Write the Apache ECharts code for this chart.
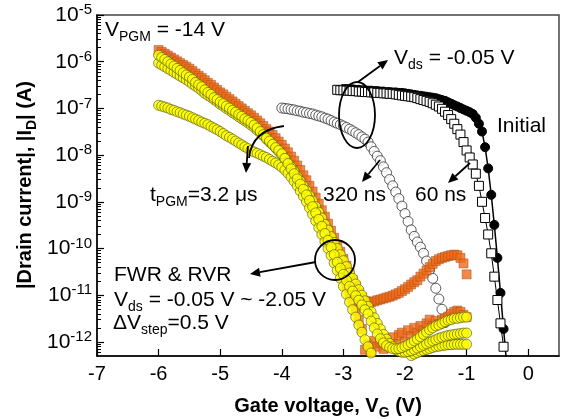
<!DOCTYPE html>
<html><head><meta charset="utf-8">
<script src="https://cdn.jsdelivr.net/npm/echarts@6/dist/echarts.min.js"></script>
<style>html,body{margin:0;padding:0;background:#fff}#c{width:563px;height:419px}</style>
</head><body><div id="c"></div>
<script>
// ---- axis ticks ----
const xTicks = [-7, -6, -5, -4, -3, -2, -1, 0];
const yMajor = [1e-12, 1e-11, 1e-10, 1e-9, 1e-8, 1e-7, 1e-6, 1e-5];
const yMinor = [6e-13, 7e-13, 8e-13, 9e-13,
  2e-12, 3e-12, 4e-12, 5e-12, 6e-12, 7e-12, 8e-12, 9e-12,
  2e-11, 3e-11, 4e-11, 5e-11, 6e-11, 7e-11, 8e-11, 9e-11,
  2e-10, 3e-10, 4e-10, 5e-10, 6e-10, 7e-10, 8e-10, 9e-10,
  2e-9, 3e-9, 4e-9, 5e-9, 6e-9, 7e-9, 8e-9, 9e-9,
  2e-8, 3e-8, 4e-8, 5e-8, 6e-8, 7e-8, 8e-8, 9e-8,
  2e-7, 3e-7, 4e-7, 5e-7, 6e-7, 7e-7, 8e-7, 9e-7,
  2e-6, 3e-6, 4e-6, 5e-6, 6e-6, 7e-6, 8e-6, 9e-6];

// ---- gate voltage sweeps (V) ----
const vg3 = [-6, -5.95, -5.9, -5.85, -5.8, -5.75, -5.7, -5.65, -5.6, -5.55,
  -5.5, -5.45, -5.4, -5.35, -5.3, -5.25, -5.2, -5.15, -5.1, -5.05,
  -5, -4.95, -4.9, -4.85, -4.8, -4.75, -4.7, -4.65, -4.6, -4.55,
  -4.5, -4.45, -4.4, -4.35, -4.3, -4.25, -4.2, -4.15, -4.1, -4.05,
  -4, -3.95, -3.9, -3.85, -3.8, -3.75, -3.7, -3.65, -3.6, -3.55,
  -3.5, -3.45, -3.4, -3.35, -3.3, -3.25, -3.2, -3.15, -3.1, -3.05,
  -3, -2.95, -2.9, -2.85, -2.8, -2.75, -2.7, -2.65, -2.6, -2.55,
  -2.5, -2.45, -2.4, -2.35, -2.3, -2.25, -2.2, -2.15, -2.1, -2.05,
  -2, -1.95, -1.9, -1.85, -1.8, -1.75, -1.7, -1.65, -1.6, -1.55,
  -1.5, -1.45, -1.4, -1.35, -1.3, -1.25, -1.2, -1.15, -1.1, -1.05, -1];
const vgO2 = vg3.slice(54);      // -3.3 .. -1.0
const vg320 = vg3.slice(40, 95); // -4.0 .. -1.3
const vg60 = [-3.1, -3.05, -3, -2.95, -2.9, -2.85, -2.8, -2.75, -2.7, -2.65,
  -2.6, -2.55, -2.5, -2.45, -2.4, -2.35, -2.3, -2.25, -2.2, -2.15,
  -2.1, -2.05, -2, -1.95, -1.9, -1.85, -1.8, -1.75, -1.7, -1.65,
  -1.6, -1.55, -1.5, -1.45, -1.4, -1.35, -1.3, -1.25, -1.2, -1.15,
  -1.1, -1.05, -1, -0.95, -0.9, -0.85, -0.8, -0.75, -0.7, -0.65,
  -0.6, -0.55, -0.5, -0.45, -0.4];
const vgInit = [-3, -2.95, -2.9, -2.85, -2.8, -2.75, -2.7, -2.65, -2.6, -2.55,
  -2.5, -2.45, -2.4, -2.35, -2.3, -2.25, -2.2, -2.15, -2.1, -2.05,
  -2, -1.95, -1.9, -1.85, -1.8, -1.75, -1.7, -1.65, -1.6, -1.55,
  -1.5, -1.45, -1.4, -1.35, -1.3, -1.25, -1.2, -1.15, -1.1, -1.05,
  -1, -0.95, -0.9, -0.85, -0.8, -0.75, -0.7, -0.65, -0.6, -0.55,
  -0.5, -0.45, -0.4, -0.35];

// ---- drain currents (A) ----
const idInitial = [2.6e-7, 2.6e-7, 2.57e-7, 2.57e-7, 2.5e-7, 2.5e-7, 2.45e-7, 2.45e-7, 2.4e-7, 2.4e-7,
  2.35e-7, 2.35e-7, 2.3e-7, 2.3e-7, 2.24e-7, 2.24e-7, 2.2e-7, 2.2e-7, 2.15e-7, 2.15e-7,
  2.1e-7, 2.05e-7, 2.0e-7, 1.95e-7, 1.9e-7, 1.86e-7, 1.82e-7, 1.78e-7, 1.74e-7, 1.7e-7,
  1.66e-7, 1.58e-7, 1.51e-7, 1.45e-7, 1.35e-7, 1.26e-7, 1.17e-7, 1.1e-7, 1.02e-7, 9.5e-8,
  8.9e-8, 8.3e-8, 7.6e-8, 6.3e-8, 4.7e-8, 3.2e-8, 1.48e-8, 5.2e-9, 1.41e-9, 3.2e-10,
  6.3e-11, 1.12e-11, 1.9e-12, 3.5e-13];
const id60ns = [2.5e-7, 2.45e-7, 2.45e-7, 2.4e-7, 2.4e-7, 2.35e-7, 2.35e-7, 2.3e-7, 2.3e-7, 2.24e-7,
  2.24e-7, 2.2e-7, 2.2e-7, 2.15e-7, 2.15e-7, 2.1e-7, 2.1e-7, 2.05e-7, 2.05e-7, 2.0e-7,
  1.95e-7, 1.9e-7, 1.86e-7, 1.82e-7, 1.78e-7, 1.74e-7, 1.66e-7, 1.58e-7, 1.51e-7, 1.45e-7,
  1.38e-7, 1.29e-7, 1.2e-7, 1.1e-7, 9.8e-8, 8.5e-8, 7.2e-8, 5.9e-8, 4.7e-8, 3.6e-8,
  2.75e-8, 1.9e-8, 1.26e-8, 8.9e-9, 6.3e-9, 4.0e-9, 2.2e-9, 1.0e-9, 4.5e-10, 2.0e-10,
  7.9e-11, 2.5e-11, 7.9e-12, 2.5e-12, 7.9e-13];
const id320ns = [1.02e-7, 1.0e-7, 9.8e-8, 9.5e-8, 9.3e-8, 8.9e-8, 8.7e-8, 8.3e-8, 8.1e-8, 7.8e-8,
  7.6e-8, 7.2e-8, 6.9e-8, 6.6e-8, 6.2e-8, 5.9e-8, 5.5e-8, 5.1e-8, 4.8e-8, 4.5e-8,
  4.2e-8, 3.9e-8, 3.6e-8, 3.3e-8, 3.0e-8, 2.75e-8, 2.45e-8, 2.2e-8, 1.9e-8, 1.51e-8,
  1.2e-8, 9.5e-9, 7.6e-9, 5.6e-9, 4.2e-9, 3.0e-9, 2.2e-9, 1.62e-9, 1.17e-9, 8.1e-10,
  5.6e-10, 3.8e-10, 2.5e-10, 1.82e-10, 1.38e-10, 1.07e-10, 7.9e-11, 5.4e-11, 3.5e-11, 2.3e-11,
  1.41e-11, 8.3e-12, 5.0e-12, 2.6e-12, 1.26e-12];
// 3.2 us: orange squares
const idO1 = [1.78e-6, 1.62e-6, 1.48e-6, 1.35e-6, 1.23e-6, 1.12e-6, 1.02e-6, 9.3e-7, 8.5e-7, 7.8e-7,
  7.1e-7, 6.3e-7, 5.6e-7, 5.0e-7, 4.5e-7, 4.0e-7, 3.5e-7, 3.2e-7, 2.8e-7, 2.5e-7,
  2.2e-7, 2.0e-7, 1.78e-7, 1.58e-7, 1.41e-7, 1.26e-7, 1.12e-7, 1.0e-7, 8.9e-8, 7.9e-8,
  7.1e-8, 6.3e-8, 5.5e-8, 4.8e-8, 4.2e-8, 3.6e-8, 3.2e-8, 2.7e-8, 2.3e-8, 1.95e-8,
  1.66e-8, 1.38e-8, 1.15e-8, 9.3e-9, 7.6e-9, 6.0e-9, 4.8e-9, 3.7e-9, 2.9e-9, 2.2e-9,
  1.66e-9, 1.23e-9, 9.1e-10, 6.6e-10, 4.8e-10, 3.4e-10, 2.4e-10, 1.7e-10, 1.2e-10, 8.5e-11,
  6.0e-11, 4.3e-11, 3.0e-11, 2.1e-11, 1.55e-11, 1.15e-11, 8.9e-12, 7.6e-12, 7.1e-12, 7.1e-12,
  7.4e-12, 7.8e-12, 8.1e-12, 8.5e-12, 8.9e-12, 9.3e-12, 9.8e-12, 1.05e-11, 1.12e-11, 1.23e-11,
  1.35e-11, 1.51e-11, 1.7e-11, 1.9e-11, 2.1e-11, 2.5e-11, 2.9e-11, 3.4e-11, 4.0e-11, 4.7e-11,
  5.4e-11, 5.9e-11, 6.3e-11, 6.6e-11, 6.9e-11, 7.2e-11, 7.4e-11, 7.2e-11, 6.3e-11, 4.8e-11,
  2.8e-11];
const idO2 = [2.8e-10, 1.9e-10, 1.26e-10, 8.5e-11, 5.6e-11, 3.7e-11, 2.5e-11, 1.62e-11, 1.07e-11, 7.1e-12,
  4.7e-12, 3.0e-12, 1.9e-12, 6.8e-13, 8.9e-13, 6.3e-13, 1.05e-12, 7.9e-13, 9.5e-13, 7.1e-13,
  1.12e-12, 8.3e-13, 1.26e-12, 8.9e-13, 1.41e-12, 1.58e-12, 1.0e-12, 1.78e-12, 1.32e-12, 2.0e-12,
  1.58e-12, 2.2e-12, 1.78e-12, 2.5e-12, 3.0e-12, 2.2e-12, 2.8e-12, 2.4e-12, 3.0e-12, 3.2e-12,
  3.5e-12, 4.0e-12, 4.4e-12, 4.7e-12, 4.4e-12, 3.8e-12, 3.4e-12];
// 3.2 us: yellow circles
const idY1 = [1.38e-6, 1.23e-6, 1.12e-6, 1.0e-6, 8.9e-7, 8.1e-7, 7.2e-7, 6.5e-7, 5.8e-7, 5.2e-7,
  4.7e-7, 4.2e-7, 3.6e-7, 3.2e-7, 2.9e-7, 2.5e-7, 2.2e-7, 2.0e-7, 1.7e-7, 1.55e-7,
  1.38e-7, 1.26e-7, 1.12e-7, 1.02e-7, 9.1e-8, 8.3e-8, 7.4e-8, 6.8e-8, 6.0e-8, 5.5e-8,
  5.0e-8, 4.4e-8, 3.8e-8, 3.2e-8, 2.75e-8, 2.3e-8, 2.0e-8, 1.7e-8, 1.45e-8, 1.26e-8,
  1.07e-8, 8.5e-9, 6.6e-9, 5.1e-9, 4.0e-9, 3.1e-9, 2.4e-9, 1.86e-9, 1.41e-9, 1.07e-9,
  7.9e-10, 5.8e-10, 4.2e-10, 3.0e-10, 2.1e-10, 1.5e-10, 1.07e-10, 7.4e-11, 5.1e-11, 3.8e-11,
  2.8e-11, 2.1e-11, 1.55e-11, 1.23e-11, 9.8e-12, 7.8e-12, 6.2e-12, 4.9e-12, 4.0e-12, 2.8e-12,
  2.0e-12, 1.48e-12, 1.17e-12, 9.5e-13, 8.3e-13, 7.6e-13, 7.2e-13, 7.1e-13, 7.2e-13, 7.6e-13,
  8.1e-13, 8.7e-13, 9.5e-13, 1.05e-12, 1.15e-12, 1.29e-12, 1.45e-12, 1.62e-12, 1.82e-12, 2.0e-12,
  2.2e-12, 2.3e-12, 2.5e-12, 2.7e-12, 2.9e-12, 3.0e-12, 3.2e-12, 3.2e-12, 3.3e-12, 3.4e-12,
  3.4e-12];
const idY2 = [9.3e-7, 8.5e-7, 7.8e-7, 7.1e-7, 6.5e-7, 5.9e-7, 5.4e-7, 4.9e-7, 4.5e-7, 4.1e-7,
  3.7e-7, 3.3e-7, 3.0e-7, 2.7e-7, 2.4e-7, 2.1e-7, 1.9e-7, 1.74e-7, 1.55e-7, 1.38e-7,
  1.23e-7, 1.12e-7, 1.0e-7, 9.1e-8, 8.1e-8, 7.4e-8, 6.6e-8, 6.0e-8, 5.4e-8, 4.9e-8,
  4.4e-8, 3.9e-8, 3.4e-8, 3.0e-8, 2.6e-8, 2.2e-8, 1.9e-8, 1.66e-8, 1.41e-8, 1.2e-8,
  1.02e-8, 8.5e-9, 6.9e-9, 5.6e-9, 4.5e-9, 3.5e-9, 2.8e-9, 2.2e-9, 1.74e-9, 1.35e-9,
  1.05e-9, 7.9e-10, 6.0e-10, 4.5e-10, 3.3e-10, 2.5e-10, 1.8e-10, 1.35e-10, 1.0e-10, 7.4e-11,
  5.5e-11, 4.1e-11, 3.0e-11, 2.3e-11, 1.74e-11, 1.32e-11, 1.0e-11, 7.6e-12, 5.8e-12, 4.4e-12,
  3.3e-12, 2.5e-12, 1.9e-12, 1.45e-12, 1.15e-12, 9.3e-13, 7.9e-13, 6.9e-13, 6.3e-13, 6.0e-13,
  6.0e-13, 6.2e-13, 6.5e-13, 6.9e-13, 7.4e-13, 7.9e-13, 8.5e-13, 9.1e-13, 9.8e-13, 1.05e-12,
  1.12e-12, 1.2e-12, 1.26e-12, 1.32e-12, 1.38e-12, 1.41e-12, 1.45e-12, 1.48e-12, 1.51e-12, 1.55e-12,
  1.55e-12];
const idY3 = [1.17e-7, 1.12e-7, 1.07e-7, 1.02e-7, 9.5e-8, 9.1e-8, 8.5e-8, 8.1e-8, 7.6e-8, 7.2e-8,
  6.8e-8, 6.3e-8, 5.9e-8, 5.5e-8, 5.1e-8, 4.8e-8, 4.5e-8, 4.1e-8, 3.8e-8, 3.5e-8,
  3.2e-8, 2.9e-8, 2.6e-8, 2.4e-8, 2.2e-8, 2.0e-8, 1.82e-8, 1.66e-8, 1.51e-8, 1.38e-8,
  1.26e-8, 1.17e-8, 1.1e-8, 1.02e-8, 9.5e-9, 8.9e-9, 8.1e-9, 7.4e-9, 6.8e-9, 6.2e-9,
  5.5e-9, 4.8e-9, 4.1e-9, 3.4e-9, 2.75e-9, 2.2e-9, 1.7e-9, 1.32e-9, 1.0e-9, 7.4e-10,
  5.4e-10, 3.9e-10, 2.8e-10, 2.0e-10, 1.41e-10, 1.0e-10, 7.1e-11, 4.9e-11, 3.4e-11, 2.3e-11,
  1.55e-11, 1.05e-11, 7.1e-12, 4.9e-12, 3.4e-12, 2.3e-12, 1.62e-12, 1.12e-12, 7.9e-13, 5.8e-13,
  4.4e-13, 3.5e-13, 3.2e-13, 3.0e-13, 3.0e-13, 3.2e-13, 3.4e-13, 3.6e-13, 3.9e-13, 4.2e-13,
  4.5e-13, 4.8e-13, 5.1e-13, 5.5e-13, 5.9e-13, 6.3e-13, 6.6e-13, 6.9e-13, 7.2e-13, 7.6e-13,
  7.9e-13, 8.1e-13, 8.3e-13, 8.5e-13, 8.7e-13, 8.7e-13, 8.9e-13, 8.9e-13, 8.9e-13, 8.9e-13,
  8.9e-13];

// ---- styling / helpers ----
const FF = '"Liberation Sans", Arial, Helvetica, sans-serif';
const pair = (xs, ys) => xs.map((x, i) => [x, ys[i]]);
function richSet(sz, bold) {
  const w = bold ? 'bold' : 'normal';
  const sub = Math.round(sz * 0.68);
  return {
    n: { fontSize: sz, fontFamily: FF, fontWeight: w, fill: '#000' },
    s: { fontSize: sub, fontFamily: FF, fontWeight: w, fill: '#000', padding: [14, 0, 0, 0] }
  };
}
function label(text, x, y, sz, bold, align, extra) {
  return Object.assign({
    type: 'text', x: x, y: y, z: 100,
    style: { text: text, rich: richSet(sz, bold), fontSize: sz, fontFamily: FF,
      fill: '#000', align: align || 'left', verticalAlign: 'middle' }
  }, extra || {});
}
function arrow(x1, y1, x2, y2) {
  const a = Math.atan2(y2 - y1, x2 - x1), L = 10, W = 4.5;
  const bx = x2 - L * Math.cos(a), by = y2 - L * Math.sin(a);
  return [
    { type: 'line', z: 100, shape: { x1: x1, y1: y1, x2: bx, y2: by }, style: { stroke: '#000', lineWidth: 1.8 } },
    { type: 'polygon', z: 100, shape: { points: [[x2, y2], [bx + W * Math.sin(a), by - W * Math.cos(a)], [bx - W * Math.sin(a), by + W * Math.cos(a)]] }, style: { fill: '#000' } }
  ];
}

const yellow = { color: '#ffff00', borderColor: '#55551a', borderWidth: 0.8 };
const orange = { color: '#ef6c1a', borderColor: '#a24a0e', borderWidth: 0.6 };

const chart = echarts.init(document.getElementById('c'), null, { renderer: 'canvas' });
chart.setOption({
  animation: false,
  backgroundColor: '#fff',
  grid: { left: 97, right: 4, top: 15, bottom: 63, show: true, borderColor: '#444', borderWidth: 1.5, backgroundColor: 'transparent' },
  xAxis: {
    type: 'value', min: -7, max: 0.5,
    axisLine: { show: true, onZero: false, lineStyle: { color: '#000', width: 1.5 } },
    axisTick: { inside: true, length: 7, customValues: xTicks, lineStyle: { color: '#000', width: 1.2 } },
    axisLabel: { customValues: xTicks, color: '#000', fontSize: 20, fontFamily: FF, margin: 8 },
    splitLine: { show: false }
  },
  yAxis: [{
    type: 'log', logBase: 10, min: 5e-13, max: 1e-5, position: 'left',
    axisLine: { show: true, onZero: false, lineStyle: { color: '#000', width: 1.5 } },
    axisTick: { inside: true, length: 7, customValues: yMajor, lineStyle: { color: '#000', width: 1.2 } },
    axisLabel: {
      customValues: yMajor, margin: 5,
      formatter: v => '{b|10}{s|' + Math.round(Math.log10(v)) + '}',
      rich: {
        b: { fontSize: 21, fontFamily: FF, color: '#000' },
        s: { fontSize: 15, fontFamily: FF, color: '#000', padding: [0, 0, 10, 0] }
      }
    },
    splitLine: { show: false }
  }, {
    type: 'log', logBase: 10, min: 5e-13, max: 1e-5, position: 'left', offset: 0,
    axisLine: { show: false, onZero: false },
    axisTick: { inside: true, length: 4, customValues: yMinor, lineStyle: { color: '#000', width: 1 } },
    axisLabel: { show: false },
    splitLine: { show: false }
  }],
  series: [
    { type: 'scatter', name: '320 ns', data: pair(vg320, id320ns), symbol: 'circle', symbolSize: 10,
      itemStyle: { color: '#fff', borderColor: '#333', borderWidth: 1 } },
    { type: 'line', name: 'Initial', data: pair(vgInit, idInitial), symbol: 'circle', symbolSize: 9, showSymbol: true,
      lineStyle: { color: '#000', width: 1.5 }, itemStyle: { color: '#000', borderColor: '#000' } },
    { type: 'line', name: '60 ns', data: pair(vg60, id60ns), symbol: 'rect', symbolSize: 9, showSymbol: true,
      lineStyle: { color: '#000', width: 1 }, itemStyle: { color: '#fff', borderColor: '#000', borderWidth: 1 } },
    { type: 'scatter', name: '3.2us O2', data: pair(vgO2, idO2), symbol: 'rect', symbolSize: 9, itemStyle: orange },
    { type: 'scatter', name: '3.2us O1', data: pair(vg3, idO1), symbol: 'rect', symbolSize: 9, itemStyle: orange },
    { type: 'scatter', name: '3.2us Y3', data: pair(vg3, idY3), symbol: 'circle', symbolSize: 10, itemStyle: yellow },
    { type: 'scatter', name: '3.2us Y2', data: pair(vg3, idY2), symbol: 'circle', symbolSize: 10, itemStyle: yellow },
    { type: 'scatter', name: '3.2us Y1', data: pair(vg3, idY1), symbol: 'circle', symbolSize: 10, itemStyle: yellow }
  ],
  graphic: [
    label('{n|V}{s|PGM}{n| = -14 V}', 105, 30, 21, false),
    label('{n|V}{s|ds}{n| = -0.05 V}', 394, 58, 21, false),
    label('{n|Initial}', 497, 126, 21, false),
    label('{n|320 ns}', 323, 195, 21, false),
    label('{n|60 ns}', 415, 195, 21, false),
    label('{n|t}{s|PGM}{n|=3.2 μs}', 150, 195, 21, false),
    label('{n|FWR & RVR}', 114, 275, 21, false),
    label('{n|V}{s|ds}{n| = -0.05 V ~ -2.05 V}', 114, 300, 21, false),
    label('{n|ΔV}{s|step}{n|=0.5 V}', 113, 323, 21, false),
    label('{n|Gate voltage, V}{s|G}{n| (V)}', 328, 406, 20, true, 'center'),
    label('{n||Drain current|, |I}{s|D}{n|| (A)}', 25, 185, 20, true, 'center', { rotation: Math.PI / 2 }),
    { type: 'ellipse', z: 100, shape: { cx: 357, cy: 115, rx: 18, ry: 33 }, style: { fill: 'none', stroke: '#000', lineWidth: 1.8 } },
    { type: 'circle', z: 100, shape: { cx: 335, cy: 260, r: 20 }, style: { fill: 'none', stroke: '#000', lineWidth: 1.8 } },
    { type: 'bezierCurve', z: 100, shape: { x1: 249, y1: 158, cpx1: 252, cpy1: 130, x2: 284, y2: 126 }, style: { fill: 'none', stroke: '#000', lineWidth: 1.8 } }
  ].concat(arrow(358, 82, 388, 60), arrow(380, 160, 362, 182), arrow(470, 163, 448, 183),
           arrow(248, 146, 246, 173), arrow(316, 262, 250, 274))
});
</script>
</body></html>
